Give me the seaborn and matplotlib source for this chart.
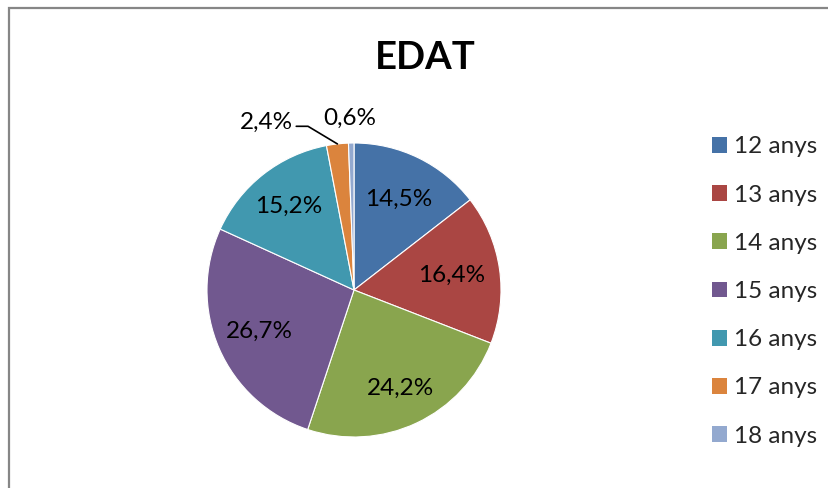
import numpy as np
import matplotlib
matplotlib.use("Agg")
import matplotlib.pyplot as plt
from matplotlib.patches import Rectangle, Patch
import seaborn as sns

categories = ["12 anys", "13 anys", "14 anys", "15 anys", "16 anys", "17 anys", "18 anys"]
values = [14.5, 16.4, 24.2, 26.7, 15.2, 2.4, 0.6]
labels = ["14,5%", "16,4%", "24,2%", "26,7%", "15,2%", "2,4%", "0,6%"]
colors = ["#4572A7", "#AA4643", "#89A54E", "#71588F", "#4198AF", "#DB843D", "#93A9CF"]
title = "EDAT"

sns.set_theme(style="white")
sns.set_palette(colors)
plt.rcParams["font.family"] = ["Lato", "DejaVu Sans"]

W, H = 829, 488
fig = plt.figure(figsize=(W / 100, H / 100), dpi=100)
fig.patch.set_facecolor("white")

# outer chart frame (clipped at right/bottom like the reference)
fig.patches.append(Rectangle((9.5 / W, -0.2), 1.5, 1.2 - 7.5 / H, transform=fig.transFigure,
                             fill=False, edgecolor="#868686", linewidth=1.6))

cx, cy, r = 354, 290, 147
ax = fig.add_axes([(cx - r) / W, (H - cy - r) / H, 2 * r / W, 2 * r / H])
wedges, _ = ax.pie(values, colors=sns.color_palette(colors), startangle=90, counterclock=False,
                   radius=1.0, wedgeprops=dict(linewidth=0.8, edgecolor="white"))
ax.set_xlim(-1, 1)
ax.set_ylim(-1, 1)
ax.set_aspect("equal")
ax.axis("off")

fs = 17.5
for i, (w, lab) in enumerate(zip(wedges, labels)):
    mid = np.deg2rad((w.theta1 + w.theta2) / 2)
    if i < 5:
        d = [0.69, 0.67, 0.74, 0.70, 0.72][i]
        ax.text(d * np.cos(mid), d * np.sin(mid), lab, ha="center", va="center",
                fontsize=fs, color="black")
    elif i == 5:
        ex, ey = np.cos(mid), np.sin(mid)
        elbow = (ex - 0.20, ey + 0.12)
        start = (elbow[0] - 0.08, elbow[1])
        ax.plot([start[0], elbow[0], ex], [start[1], elbow[1], ey], color="black",
                linewidth=1.2, clip_on=False)
        ax.text(start[0] - 0.02, start[1] + 0.03, lab, ha="right", va="center",
                fontsize=fs, color="black")
    else:
        ax.text(1.17 * np.cos(mid) - 0.01, 1.17 * np.sin(mid), lab, ha="center", va="center",
                fontsize=fs, color="black")

fig.text(425 / W, 1 - 58 / H, title, ha="center", va="center", fontsize=27.5,
         fontweight="bold", color="black")

handles = [Patch(facecolor=c, edgecolor="none") for c in colors]
fig.legend(handles, categories, loc="center left", bbox_to_anchor=(712 / W, 1 - 291.5 / H),
           frameon=False, fontsize=fs, handlelength=0.62, handleheight=0.62,
           handletextpad=0.3, labelspacing=1.12, borderpad=0, borderaxespad=0)

fig.savefig("out.png", dpi=100, facecolor="white")
